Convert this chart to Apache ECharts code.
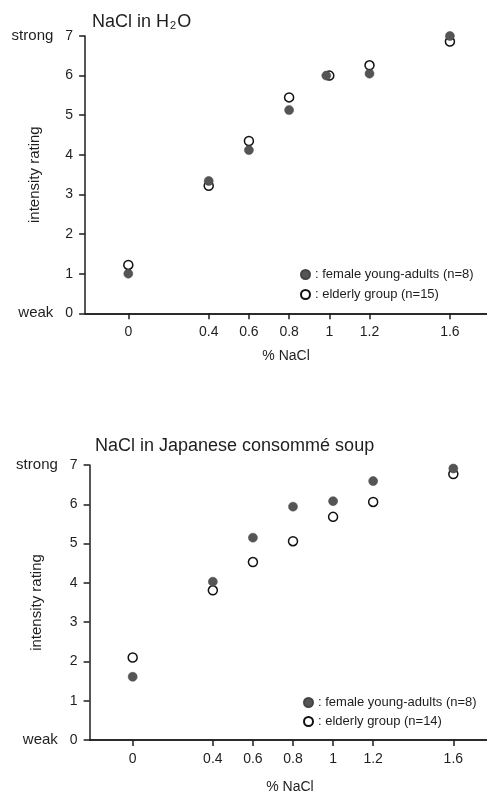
<!DOCTYPE html>
<html><head><meta charset="utf-8">
<script src="https://cdn.jsdelivr.net/npm/echarts@6/dist/echarts.min.js"></script>
<style>html,body{margin:0;padding:0;background:#fff}#c{width:487px;height:795px}</style>
</head><body><div id="c"></div><script>
// ---- data ----
const xTickValues = [0, 0.4, 0.6, 0.8, 1, 1.2, 1.6];
// NaCl in H2O
const h2oFemaleX = [0, 0.4, 0.6, 0.8, 0.985, 1.2, 1.6];
const h2oFemaleY = [1.0, 3.34, 4.12, 5.13, 6.0, 6.05, 7.0];
const h2oElderlyX = [0, 0.4, 0.6, 0.8, 1.0, 1.2, 1.6];
const h2oElderlyY = [1.22, 3.22, 4.35, 5.45, 6.0, 6.26, 6.86];
// NaCl in Japanese consommé soup
const soupX = [0, 0.4, 0.6, 0.8, 1, 1.2, 1.6];
const soupFemaleY = [1.61, 4.03, 5.15, 5.94, 6.08, 6.59, 6.91];
const soupElderlyY = [2.10, 3.81, 4.53, 5.06, 5.68, 6.06, 6.77];

const nameFemale = 'female young-adults (n=8)';
const nameElderly15 = 'elderly group (n=15)';
const nameElderly14 = 'elderly group (n=14)';

const FONT = '"Liberation Sans", Arial, sans-serif';
const INK = '#1e1e1e';
const pairs = (xs, ys) => xs.map((x, i) => [x, ys[i]]);

function xAxisBottom(gi, nameGap) {
  return {
    type: 'value', gridIndex: gi, position: 'bottom', min: -0.215, max: 1.785,
    name: '% NaCl', nameLocation: 'middle', nameGap: nameGap, nameMoveOverlap: false,
    nameTextStyle: { fontFamily: FONT, fontSize: 14, color: INK },
    axisLine: { show: true, onZero: false, lineStyle: { color: INK, width: 1.5 } },
    axisTick: { show: true, customValues: xTickValues, length: 6, lineStyle: { color: INK, width: 1.5 } },
    axisLabel: { customValues: xTickValues, margin: 12, fontFamily: FONT, fontSize: 14, color: INK },
    splitLine: { show: false }
  };
}
function xAxisTop(gi) {
  return {
    type: 'value', gridIndex: gi, position: 'top', min: -0.215, max: 1.785,
    axisLine: { show: true, lineStyle: { color: INK, width: 1.5 } },
    axisTick: { show: false }, axisLabel: { show: false }, splitLine: { show: false }
  };
}
function yAxis(gi, nameGap) {
  return {
    type: 'value', gridIndex: gi, min: 0, max: 7, interval: 1,
    name: 'intensity rating', nameLocation: 'middle', nameGap: nameGap, nameMoveOverlap: false,
    nameTextStyle: { fontFamily: FONT, fontSize: 15, color: INK },
    axisLine: { show: true, onZero: false, lineStyle: { color: INK, width: 1.5 } },
    axisTick: { show: true, length: 6, lineStyle: { color: INK, width: 1.5 } },
    axisLabel: {
      margin: 12, fontFamily: FONT, fontSize: 14, color: INK,
      formatter: v => v === 7 ? '{s|strong}{n|7}' : (v === 0 ? '{s|weak}{n|0}' : '{n|' + v + '}'),
      rich: {
        s: { fontFamily: FONT, fontSize: 15, color: INK, padding: [0, 12, 0, 0] },
        n: { fontFamily: FONT, fontSize: 14, color: INK }
      }
    },
    splitLine: { show: false }
  };
}
const filledStyle = { color: '#555555', borderColor: '#444444', borderWidth: 0.5, opacity: 1 };
const openStyle = { color: '#ffffff', borderColor: '#111111', borderWidth: 1.5, opacity: 1 };

const option = {
  backgroundColor: '#ffffff',
  animation: false,
  title: [
    { text: 'NaCl in H{sub|2}O', left: 87, top: 8,
      textStyle: { fontFamily: FONT, fontSize: 18, fontWeight: 'normal', color: INK,
        rich: { sub: { fontFamily: FONT, fontSize: 11, color: INK, padding: [7, 1, 0, 1] } } } },
    { text: 'NaCl in Japanese consommé soup', left: 90, top: 432,
      textStyle: { fontFamily: FONT, fontSize: 18, fontWeight: 'normal', color: INK } }
  ],
  grid: [
    { left: 85.1, top: 36, width: 402, height: 277.3, outerBoundsMode: 'none', containLabel: false },
    { left: 89.6, top: 465, width: 400.8, height: 275, outerBoundsMode: 'none', containLabel: false }
  ],
  xAxis: [xAxisBottom(0, 36), xAxisTop(0), xAxisBottom(1, 40), xAxisTop(1)],
  yAxis: [yAxis(0, 43), yAxis(1, 45)],
  legend: [
    { orient: 'vertical', left: 295, top: 263, itemWidth: 9, itemHeight: 9, itemGap: 7,
      data: [nameFemale, nameElderly15], formatter: n => ': ' + n,
      textStyle: { fontFamily: FONT, fontSize: 13, color: INK } },
    { orient: 'vertical', left: 298, top: 691, itemWidth: 9, itemHeight: 9, itemGap: 6,
      data: [nameFemale, nameElderly14], formatter: n => ': ' + n,
      textStyle: { fontFamily: FONT, fontSize: 13, color: INK } }
  ],
  series: [
    { name: nameElderly15, type: 'scatter', xAxisIndex: 0, yAxisIndex: 0, symbol: 'circle', symbolSize: 9,
      itemStyle: openStyle, data: pairs(h2oElderlyX, h2oElderlyY) },
    { name: nameFemale, type: 'scatter', xAxisIndex: 0, yAxisIndex: 0, symbol: 'circle', symbolSize: 9,
      itemStyle: filledStyle, data: pairs(h2oFemaleX, h2oFemaleY) },
    { name: nameElderly14, type: 'scatter', xAxisIndex: 2, yAxisIndex: 1, symbol: 'circle', symbolSize: 9,
      itemStyle: openStyle, data: pairs(soupX, soupElderlyY) },
    { name: nameFemale, type: 'scatter', xAxisIndex: 2, yAxisIndex: 1, symbol: 'circle', symbolSize: 9,
      itemStyle: filledStyle, data: pairs(soupX, soupFemaleY) }
  ]
};
echarts.init(document.getElementById('c'), null, { renderer: 'canvas' }).setOption(option);
</script></body></html>
